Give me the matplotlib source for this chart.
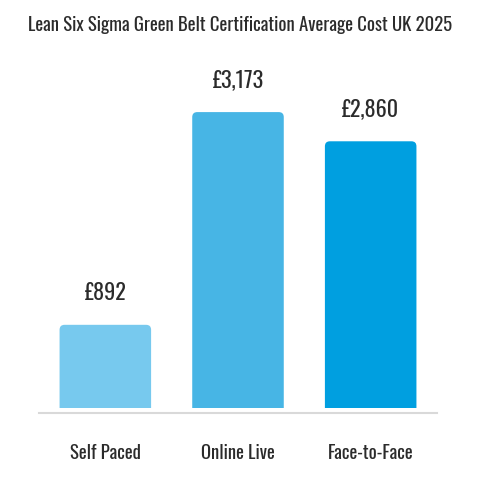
import matplotlib
matplotlib.use('Agg')
import matplotlib.pyplot as plt
from matplotlib.patches import FancyBboxPatch
from matplotlib.lines import Line2D

categories = ['Self Paced', 'Online Live', 'Face-to-Face']
costs = [892, 3173, 2860]
labels = ['£892', '£3,173', '£2,860']
colors = ['#77C9EE', '#47B5E5', '#009FE0']

plt.rcParams['font.family'] = ['Oswald', 'DejaVu Sans']

fig = plt.figure(figsize=(4.8, 4.8), dpi=100)
ax = fig.add_axes([39/480, 0.15, 398/480, 0.680])
ax.set_xlim(-0.5, 2.5)
ax.set_ylim(0, 3500)

# data units per pixel, for the rounded tops
xpp = 3 / 398
ypp = 3500 / (0.680 * 480)

bars = ax.bar(range(len(costs)), costs, width=0.69, color=colors)
for b in bars:
    b.set_visible(False)
    # rounded top corners, bottom pushed below the axis and clipped
    p = FancyBboxPatch((b.get_x(), -300), b.get_width(), b.get_height() + 300,
                       boxstyle='round,pad=0,rounding_size=%f' % (5 * xpp),
                       mutation_aspect=ypp / xpp,
                       fc=b.get_facecolor(), ec='none')
    ax.add_patch(p)

for i, (v, t) in enumerate(zip(costs, labels)):
    ax.annotate(t, (i, v), xytext=(0, 23), textcoords='offset points',
                ha='center', va='center', fontsize=16, color='#2b2b2b')

ax.set_xticks(range(len(categories)))
ax.set_xticklabels(categories, fontsize=13.5, color='#2b2b2b')
ax.tick_params(axis='x', length=0, pad=26)
ax.set_yticks([])
for s in ax.spines.values():
    s.set_visible(False)

fig.add_artist(Line2D([39/480, 437/480], [1 - 413/480] * 2, color='#d9d9d9', lw=1.5))

fig.suptitle('Lean Six Sigma Green Belt Certification Average Cost UK 2025',
             y=1 - 25/480, va='center', fontsize=13.5, color='#2b2b2b')

fig.savefig('out.png', dpi=100, facecolor='white')
